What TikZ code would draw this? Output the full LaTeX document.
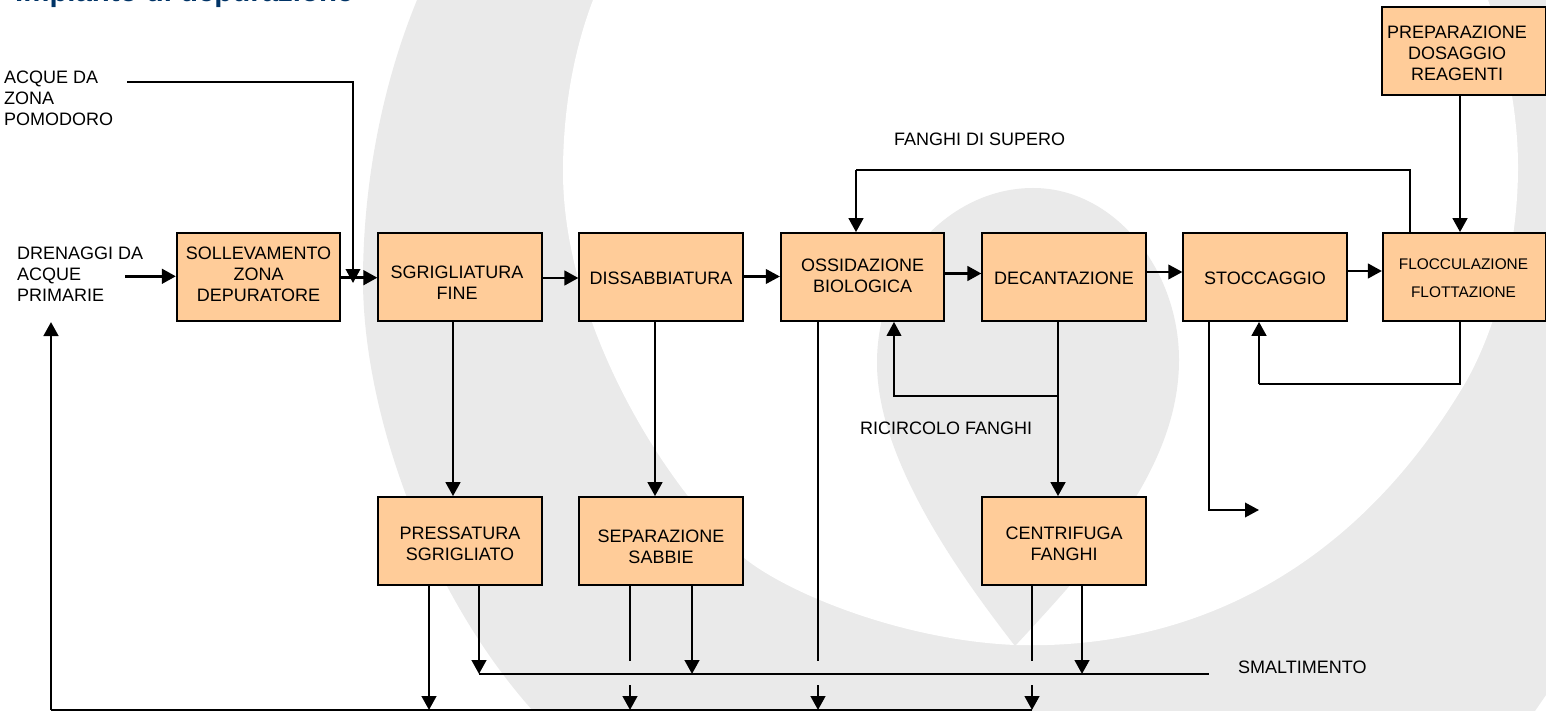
\documentclass[tikz,border=0pt]{standalone}
\usepackage{fontspec}
\setmainfont{Liberation Sans}
\usetikzlibrary{arrows.meta}
\definecolor{boxfill}{HTML}{FFCC99}
\definecolor{swirl}{HTML}{EAEAEA}
\definecolor{titleblue}{HTML}{003366}
\newcommand{\boxlbl}[3]{\raisebox{#2}[0pt][0pt]{\makebox[0pt]{\hspace*{#1}\begin{tabular}[c]{@{}c@{}}#3\end{tabular}}}}
\tikzset{
  x=1pt,y=-1pt,
  proc/.style={draw=black,fill=boxfill,line width=1.7pt,minimum width=163.5pt,minimum height=88pt,inner sep=0pt,font=\fontsize{18}{21}\selectfont},
  small/.style={font=\fontsize{15.4}{28}\selectfont},
  free/.style={inner sep=0pt,anchor=north west,align=left,font=\fontsize{18}{21}\selectfont},
  thickline/.style={line width=2.9pt},
  thinline/.style={line width=2.1pt},
  hairline/.style={line width=1.6pt},
  tip/.style={-{Triangle[length=14pt,width=14.5pt]}},
}
\begin{document}
\begin{tikzpicture}
\useasboundingbox (0,0) rectangle (1546,711);
% background
\fill[swirl] (417,0) .. controls (380,90) and (363,190) .. (363,280) .. controls (363,410) and (425,590) .. (533,711) -- (1535,711) -- (1546,695) -- (1546,0) -- cycle;
\fill[white] (593,0) .. controls (572,55) and (563,115) .. (563,172) .. controls (563,310) and (650,470) .. (743,557) .. controls (785,592) and (900,640) .. (1015,645) .. controls (1180,650) and (1350,580) .. (1467,380) .. controls (1500,320) and (1518,240) .. (1518,167) .. controls (1518,110) and (1505,50) .. (1488,0) -- cycle;
\fill[swirl] (1015,646) .. controls (960,575) and (877,460) .. (877,363) .. controls (877,265) and (950,188) .. (1033,188) .. controls (1115,188) and (1179,270) .. (1179,360) .. controls (1179,470) and (1090,565) .. (1015,646) -- cycle;
% title
\node[inner sep=0pt,anchor=base west,text=titleblue,font=\bfseries\fontsize{29.4}{32}\selectfont] (title) at (15,1.5) {Impianto di depurazione};
% boxes
\node[proc] (soll) at (258.5,277) {\boxlbl{0pt}{-4pt}{SOLLEVAMENTO\\ZONA\\DEPURATORE}};
\node[proc] (sgr) at (460,277) {\boxlbl{-6pt}{-12pt}{SGRIGLIATURA\\FINE}};
\node[proc] (dis) at (661,277) {\boxlbl{0pt}{-8pt}{DISSABBIATURA}};
\node[proc] (oss) at (862.5,277) {\boxlbl{0pt}{-5pt}{OSSIDAZIONE\\BIOLOGICA}};
\node[proc] (dec) at (1064,277) {\boxlbl{0pt}{-8pt}{DECANTAZIONE}};
\node[proc] (sto) at (1265,277) {\boxlbl{0pt}{-8pt}{STOCCAGGIO}};
\node[proc,small] (flo) at (1464.5,277) {\boxlbl{-2pt}{-4pt}{FLOCCULAZIONE\\FLOTTAZIONE}};
\node[proc] (pre) at (1464,51) {\boxlbl{-14pt}{-8.5pt}{PREPARAZIONE\\DOSAGGIO\\REAGENTI}};
\node[proc] (pres) at (460,541) {\boxlbl{0pt}{-9pt}{PRESSATURA\\SGRIGLIATO}};
\node[proc] (sep) at (661,541) {\boxlbl{0pt}{-12pt}{SEPARAZIONE\\SABBIE}};
\node[proc] (cen) at (1064,541) {\boxlbl{0pt}{-9pt}{CENTRIFUGA\\FANGHI}};
% free labels
\node[free] (acque) at (4,71) {ACQUE DA\\ZONA\\POMODORO};
\node[free] (dren) at (17,247) {DRENAGGI DA\\ACQUE\\PRIMARIE};
\node[free,anchor=west] (sup) at (894,139.5) {FANGHI DI SUPERO};
\node[free,anchor=west] (ric) at (860,428.5) {RICIRCOLO FANGHI};
\node[free,anchor=west] (sma) at (1238,667) {SMALTIMENTO};
% coordinates for free ends
\coordinate (c1) at (127,82);
\coordinate (c2) at (125,276.3);
\coordinate (r0) at (51,322);
\coordinate (bl) at (51,710);
\coordinate (sm0) at (479,674);
\coordinate (sm1) at (1209,674);
\coordinate (b1) at (630,685);
\coordinate (b2) at (818,685);
\coordinate (b3) at (1032,685);
% main line
\draw[thickline,tip] (c2) -- (soll.west |- c2);
\draw[thickline,tip] ([yshift=-0.7pt]soll.east) -- ([yshift=-0.7pt]sgr.west);
\draw[thinline,tip] (c1) -| (353,283);
\draw[thickline,tip] ([yshift=-1pt]sgr.east) -- ([yshift=-1pt]dis.west);
\draw[thinline,tip] ([yshift=0.5pt]dis.east) -- ([yshift=0.5pt]oss.west);
\draw[thickline,tip] ([yshift=3.5pt]oss.east) -- ([yshift=3.5pt]dec.west);
\draw[thinline,tip] ([yshift=5pt]dec.east) -- ([yshift=5pt]sto.west);
\draw[thickline,tip] ([yshift=6pt]sto.east) -- ([yshift=6pt]flo.west);
% verticals
\draw[thickline,tip] ([xshift=-7pt]sgr.south) -- ([xshift=-7pt]pres.north);
\draw[thickline,tip] ([xshift=-6pt]dis.south) -- ([xshift=-6pt]sep.north);
\draw[thickline,tip] ([xshift=-6pt]dec.south) -- ([xshift=-6pt]cen.north);
\draw[thinline,tip] ([xshift=-6pt]dec.south |- 0,396) -| ([xshift=31.5pt]oss.south);
\draw[hairline] ([xshift=-44.5pt]oss.south) -- (818,661);
\draw[thinline] ([xshift=-54.5pt]flo.north) |- (856,170);
\draw[thickline,tip] (856,170) -- ([xshift=-6.5pt]oss.north);
\draw[thickline,tip] ([xshift=-4pt]pre.south) -- ([xshift=-4.5pt]flo.north);
\draw[thinline] ([xshift=-4.5pt]flo.south) |- (1259,384);
\draw[thickline,tip] (1259,384) -- ([xshift=-6pt]sto.south);
\draw[thinline,tip] ([xshift=-56pt]sto.south) |- (1259,510);
% lower
\draw[thickline,tip] ([xshift=-31pt]pres.south) -- (429,710);
\draw[thickline,tip] ([xshift=19pt]pres.south) -- (sm0);
\draw[hairline] ([xshift=-31pt]sep.south) -- (630,661);
\draw[thickline,tip] ([xshift=31pt]sep.south) -- (692,674);
\draw[hairline] ([xshift=-32pt]cen.south) -- (1032,661);
\draw[thickline,tip] ([xshift=18pt]cen.south) -- (1082,674);
\draw[thinline] (sm0) -- (sm1);
\draw[thickline,tip] (b1) -- (630,710);
\draw[thickline,tip] (b2) -- (818,710);
\draw[thickline,tip] (b3) -- (1032,710);
\draw[hairline] (1032,710) -- (bl);
\draw[thickline,tip] (bl) -- (r0);
\end{tikzpicture}
\end{document}
